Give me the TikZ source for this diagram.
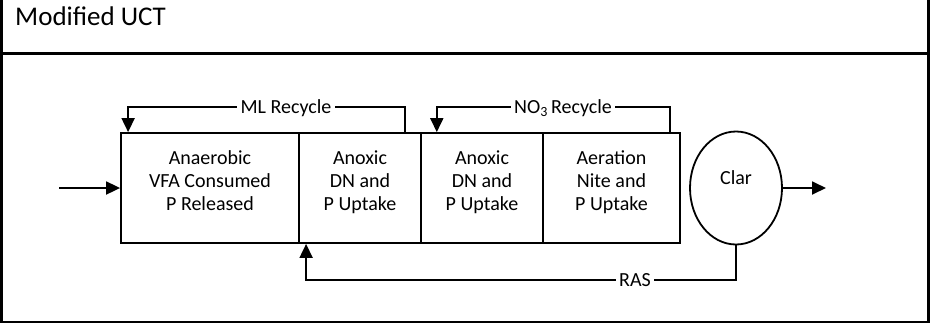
\documentclass[tikz,border=0pt]{standalone}
\usepackage{fontspec}
\setmainfont{Carlito}
\usetikzlibrary{arrows.meta,calc,shapes.geometric}
\begin{document}
\begin{tikzpicture}[x=1pt,y=-1pt,
  frame/.style={line width=2.6pt},
  tank/.style={draw, line width=1.8pt, inner sep=0pt, minimum height=110pt},
  tanktext/.style={font=\fontsize{20}{23}\selectfont, align=center, inner sep=0pt, anchor=base},
  flow/.style={line width=1.8pt, -{Triangle[length=14pt,width=13pt]}},
  lbl/.style={font=\fontsize{20}{24}\selectfont, fill=white, inner sep=0pt, inner xsep=3pt,
              text height=12pt, text depth=0pt},
  ]
  \useasboundingbox (0,0) rectangle (932,325);

  % table frame: title cell and body cell
  \draw[frame] (1.3,0) -- (1.3,322) -- (928.5,322) -- (928.5,0);
  \draw[frame] (0,53.5) -- (930,53.5);
  \node[anchor=base west, font=\fontsize{27}{32}\selectfont, inner sep=0pt] (title) at (15,25) {Modified UCT};

  % reactor train
  \node[tank, minimum width=178pt] (tank1) at (210,188) {};
  \node[tank, minimum width=122pt] (tank2) at (360,188) {};
  \node[tank, minimum width=122pt] (tank3) at (482,188) {};
  \node[tank, minimum width=137pt] (tank4) at (611.5,188) {};

  % zone descriptions (base = baseline of the last line)
  \node[tanktext] (t1) at (210,210) {Anaerobic\\VFA Consumed\\P Released};
  \node[tanktext] (t2) at (360,210) {Anoxic\\DN and\\P Uptake};
  \node[tanktext] (t3) at (482,210) {Anoxic\\DN and\\P Uptake};
  \node[tanktext] (t4) at (611.5,210) {Aeration\\Nite and\\P Uptake};

  % clarifier
  \node[draw, ellipse, line width=1.8pt, inner sep=0pt, minimum width=92pt, minimum height=113pt] (clar) at (736,188) {};
  \node[tanktext] (clartext) at (736,184) {Clar};

  % influent and effluent
  \coordinate (inflow) at (59,188);
  \coordinate (outflow) at (826,188);
  \draw[flow] (inflow) -- (tank1.west);
  \draw[flow] (clar.east) -- (outflow);

  % ML recycle
  \coordinate (mlL) at ($(tank1.north west)+(8,0)$);
  \coordinate (mlR) at ($(tank2.north east)+(-17,0)$);
  \coordinate (topy) at (0,107);
  \draw[flow] (mlR) -- (mlR |- topy) -- (mlL |- topy) -- (mlL);
  \node[lbl, inner xsep=4pt] (mllbl) at (286,107) {ML Recycle};

  % nitrate recycle
  \coordinate (noL) at ($(tank3.north west)+(16.7,0)$);
  \coordinate (noR) at ($(tank4.north east)+(-10.7,0)$);
  \draw[flow] (noR) -- (noR |- topy) -- (noL |- topy) -- (noL);
  \node[lbl] (nolbl) at (563,107) {NO\textsubscript{3}\,Recycle};

  % return activated sludge
  \coordinate (rasA) at ($(tank2.south west)+(8,0)$);
  \coordinate (boty) at (0,280);
  \draw[flow] (clar.south) -- (clar.south |- boty) -- (rasA |- boty) -- (rasA);
  \node[lbl] (raslbl) at (635,280) {RAS};
\end{tikzpicture}
\end{document}
